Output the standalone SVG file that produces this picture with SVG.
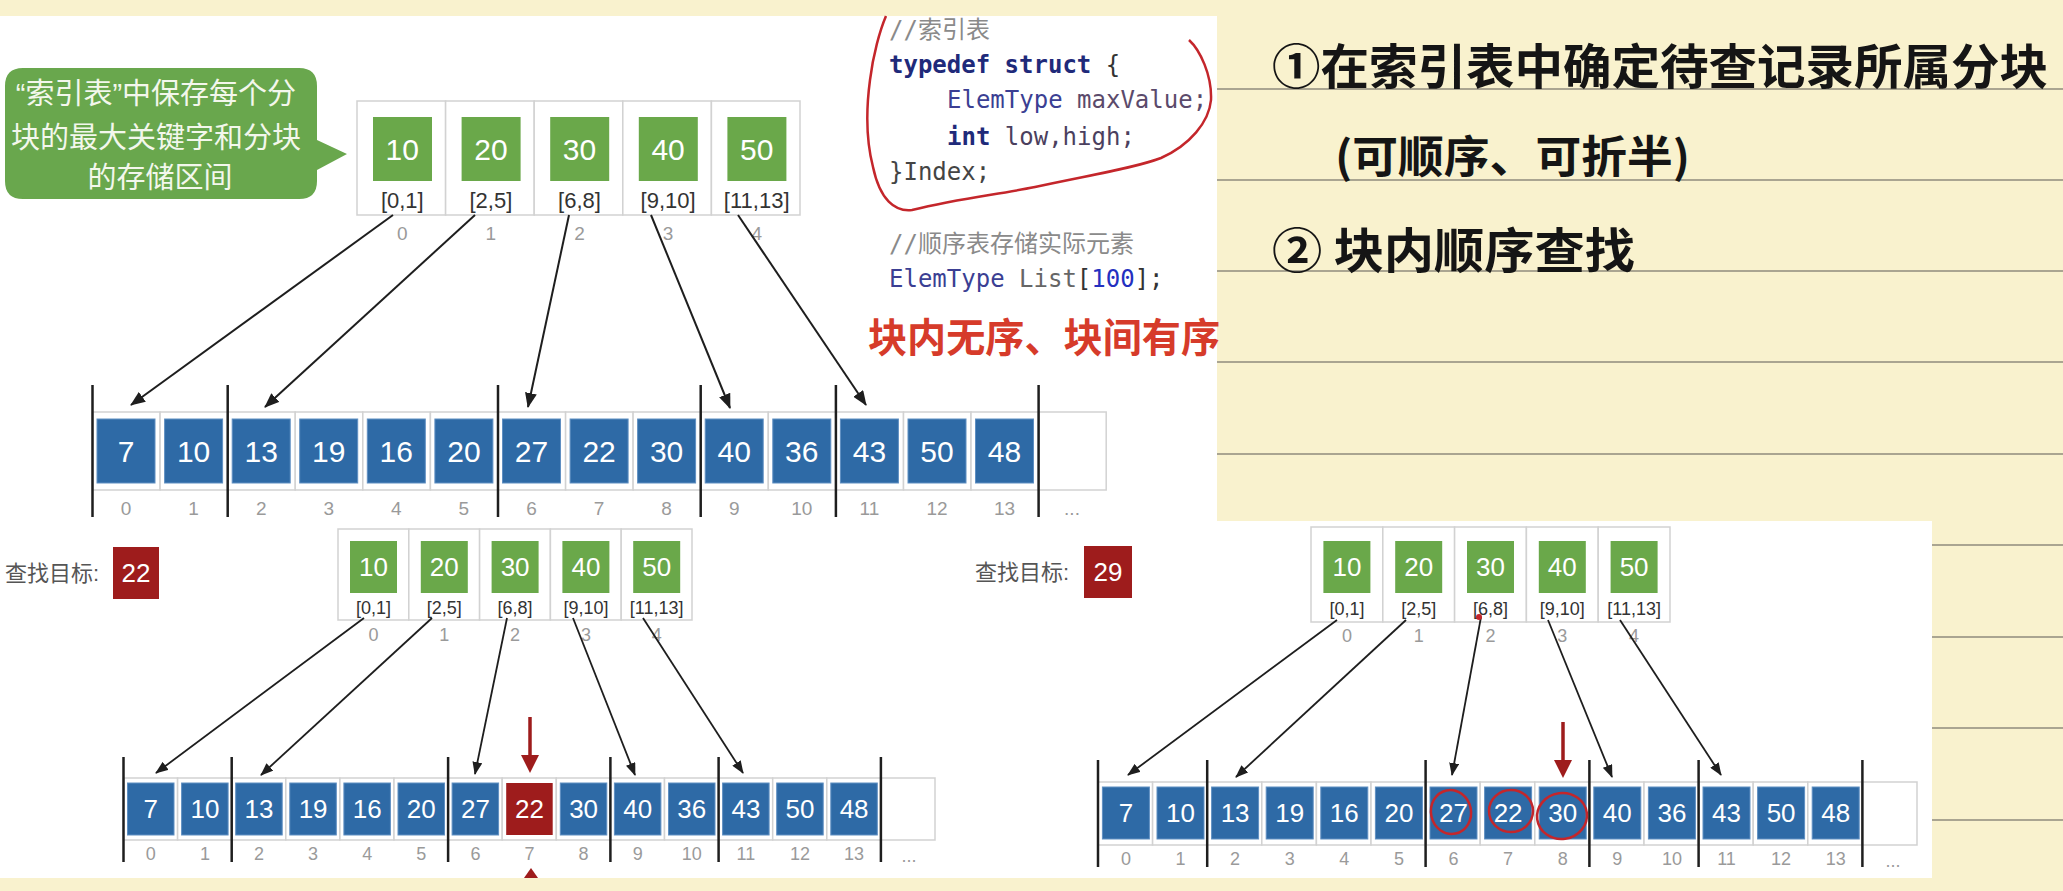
<svg xmlns="http://www.w3.org/2000/svg" width="2063" height="891" viewBox="0 0 2063 891">
<style>
.cell{fill:#fff;stroke:#d2d2d2;stroke-width:1.5}
.gbox{fill:#6AA84A}
.bbox{fill:#2E6AA6;stroke:#5f8fc2;stroke-width:1}
.rbox{fill:#9E1C1C}
.num{font-family:"Liberation Sans",Arial,sans-serif;fill:#fff;text-anchor:middle}
.rng{font-family:"Liberation Sans",Arial,sans-serif;fill:#333;text-anchor:middle}
.idx{font-family:"Liberation Sans",Arial,sans-serif;fill:#9a9a9a;text-anchor:middle}
.sep{stroke:#1e1e1e;stroke-width:2.5}
.arr{stroke:#1e1e1e;stroke-width:2;fill:none;marker-end:url(#ah)}
.arr2{stroke:#1e1e1e;stroke-width:1.8;fill:none;marker-end:url(#ah2)}
.rule{stroke:#8f8b7d;stroke-width:1.5}
.code{font-family:"DejaVu Sans Mono","Noto Sans CJK SC",monospace;font-size:24px;white-space:pre}
.cmt{fill:#8a8a8a}
.kw{fill:#1F2A7A;font-weight:bold}
.ty{fill:#3B3F93}
.hand{font-family:"Noto Sans CJK SC",sans-serif;font-weight:bold;fill:#151515}
.lbl{font-family:"Liberation Sans","Noto Sans CJK SC",sans-serif;font-size:22px;fill:#555}
.red{fill:#9E1C1C}
.redline{stroke:#C4262B;stroke-width:2.5;fill:none}
.big{font-size:30px}
.sm{font-size:26px}
.r1{font-size:22px}
.r2{font-size:18px}
.i1{font-size:19px}
.i2{font-size:18px}
</style>
<defs>
<marker id="ah" markerWidth="15" markerHeight="12" refX="14" refY="6" orient="auto" markerUnits="userSpaceOnUse"><path d="M0,0 L15,6 L0,12 z" fill="#1e1e1e"/></marker>
<marker id="ah2" markerWidth="13" markerHeight="10" refX="12" refY="5" orient="auto" markerUnits="userSpaceOnUse"><path d="M0,0 L13,5 L0,10 z" fill="#1e1e1e"/></marker>
</defs>

<!-- background paper -->
<rect x="0" y="0" width="2063" height="891" fill="#F9F2CE"/>
<g id="ruled-lines">
<line class="rule" x1="1217" y1="89" x2="2063" y2="89"/>
<line class="rule" x1="1217" y1="180" x2="2063" y2="180"/>
<line class="rule" x1="1217" y1="271" x2="2063" y2="271"/>
<line class="rule" x1="1217" y1="362" x2="2063" y2="362"/>
<line class="rule" x1="1217" y1="454" x2="2063" y2="454"/>
<line class="rule" x1="1932" y1="545" x2="2063" y2="545"/>
<line class="rule" x1="1932" y1="637" x2="2063" y2="637"/>
<line class="rule" x1="1932" y1="728" x2="2063" y2="728"/>
<line class="rule" x1="1932" y1="820" x2="2063" y2="820"/>
</g>

<!-- white screenshot panels -->
<rect x="0" y="16" width="1217" height="505" fill="#fff"/>
<rect x="0" y="520" width="965" height="358" fill="#fff"/>
<rect x="965" y="521" width="967" height="357" fill="#fff"/>

<!-- ================= PANEL A ================= -->
<g id="A-callout">
<path d="M23,68 H299 Q317,68 317,86 V140 L347,154 L317,170 V181 Q317,199 299,199 H23 Q5,199 5,181 V86 Q5,68 23,68 Z" fill="#69A74D"/>
<text font-family="'Liberation Sans','Noto Sans CJK SC',sans-serif" font-size="29" fill="#F3F7EC" text-anchor="middle">
<tspan x="160" y="104">“索引表”中保存每个分</tspan>
<tspan x="160" y="148">块的最大关键字和分块</tspan>
<tspan x="160" y="188">的存储区间</tspan>
</text>
</g>

<g id="A-index-0"><rect class="cell" x="357" y="101" width="88.6" height="114"/><rect class="gbox" x="373" y="117" width="59" height="64"/><text class="num big" x="402.3" y="160">10</text><text class="rng r1" x="402.3" y="208">[0,1]</text><text class="idx i1" x="402.3" y="240">0</text></g>
<g id="A-index-1"><rect class="cell" x="445.6" y="101" width="88.6" height="114"/><rect class="gbox" x="461.6" y="117" width="59" height="64"/><text class="num big" x="490.9" y="160">20</text><text class="rng r1" x="490.9" y="208">[2,5]</text><text class="idx i1" x="490.9" y="240">1</text></g>
<g id="A-index-2"><rect class="cell" x="534.2" y="101" width="88.6" height="114"/><rect class="gbox" x="550.2" y="117" width="59" height="64"/><text class="num big" x="579.5" y="160">30</text><text class="rng r1" x="579.5" y="208">[6,8]</text><text class="idx i1" x="579.5" y="240">2</text></g>
<g id="A-index-3"><rect class="cell" x="622.8" y="101" width="88.6" height="114"/><rect class="gbox" x="638.8" y="117" width="59" height="64"/><text class="num big" x="668.1" y="160">40</text><text class="rng r1" x="668.1" y="208">[9,10]</text><text class="idx i1" x="668.1" y="240">3</text></g>
<g id="A-index-4"><rect class="cell" x="711.4" y="101" width="88.6" height="114"/><rect class="gbox" x="727.4" y="117" width="59" height="64"/><text class="num big" x="756.7" y="160">50</text><text class="rng r1" x="756.7" y="208">[11,13]</text><text class="idx i1" x="756.7" y="240">4</text></g>

<g id="A-array">
<g id="A-cell-0"><rect class="cell" x="92.5" y="412" width="67.6" height="78"/><rect class="bbox" x="97" y="419" width="58" height="64"/><text class="num big" x="126" y="462">7</text><text class="idx i1" x="126" y="515">0</text></g>
<g id="A-cell-1"><rect class="cell" x="160.1" y="412" width="67.6" height="78"/><rect class="bbox" x="164.6" y="419" width="58" height="64"/><text class="num big" x="193.6" y="462">10</text><text class="idx i1" x="193.6" y="515">1</text></g>
<g id="A-cell-2"><rect class="cell" x="227.7" y="412" width="67.6" height="78"/><rect class="bbox" x="232.2" y="419" width="58" height="64"/><text class="num big" x="261.2" y="462">13</text><text class="idx i1" x="261.2" y="515">2</text></g>
<g id="A-cell-3"><rect class="cell" x="295.2" y="412" width="67.6" height="78"/><rect class="bbox" x="299.7" y="419" width="58" height="64"/><text class="num big" x="328.7" y="462">19</text><text class="idx i1" x="328.7" y="515">3</text></g>
<g id="A-cell-4"><rect class="cell" x="362.8" y="412" width="67.6" height="78"/><rect class="bbox" x="367.3" y="419" width="58" height="64"/><text class="num big" x="396.3" y="462">16</text><text class="idx i1" x="396.3" y="515">4</text></g>
<g id="A-cell-5"><rect class="cell" x="430.4" y="412" width="67.6" height="78"/><rect class="bbox" x="434.9" y="419" width="58" height="64"/><text class="num big" x="463.9" y="462">20</text><text class="idx i1" x="463.9" y="515">5</text></g>
<g id="A-cell-6"><rect class="cell" x="498" y="412" width="67.6" height="78"/><rect class="bbox" x="502.5" y="419" width="58" height="64"/><text class="num big" x="531.5" y="462">27</text><text class="idx i1" x="531.5" y="515">6</text></g>
<g id="A-cell-7"><rect class="cell" x="565.6" y="412" width="67.6" height="78"/><rect class="bbox" x="570.1" y="419" width="58" height="64"/><text class="num big" x="599.1" y="462">22</text><text class="idx i1" x="599.1" y="515">7</text></g>
<g id="A-cell-8"><rect class="cell" x="633.1" y="412" width="67.6" height="78"/><rect class="bbox" x="637.6" y="419" width="58" height="64"/><text class="num big" x="666.6" y="462">30</text><text class="idx i1" x="666.6" y="515">8</text></g>
<g id="A-cell-9"><rect class="cell" x="700.7" y="412" width="67.6" height="78"/><rect class="bbox" x="705.2" y="419" width="58" height="64"/><text class="num big" x="734.2" y="462">40</text><text class="idx i1" x="734.2" y="515">9</text></g>
<g id="A-cell-10"><rect class="cell" x="768.3" y="412" width="67.6" height="78"/><rect class="bbox" x="772.8" y="419" width="58" height="64"/><text class="num big" x="801.8" y="462">36</text><text class="idx i1" x="801.8" y="515">10</text></g>
<g id="A-cell-11"><rect class="cell" x="835.9" y="412" width="67.6" height="78"/><rect class="bbox" x="840.4" y="419" width="58" height="64"/><text class="num big" x="869.4" y="462">43</text><text class="idx i1" x="869.4" y="515">11</text></g>
<g id="A-cell-12"><rect class="cell" x="903.5" y="412" width="67.6" height="78"/><rect class="bbox" x="908" y="419" width="58" height="64"/><text class="num big" x="937" y="462">50</text><text class="idx i1" x="937" y="515">12</text></g>
<g id="A-cell-13"><rect class="cell" x="971" y="412" width="67.6" height="78"/><rect class="bbox" x="975.5" y="419" width="58" height="64"/><text class="num big" x="1004.5" y="462">48</text><text class="idx i1" x="1004.5" y="515">13</text></g>
<g id="A-cell-14"><rect class="cell" x="1038.6" y="412" width="67.6" height="78"/><text class="idx i1" x="1072" y="515">...</text></g>
</g>

<g id="A-connectors">
<line class="sep" x1="92.5" y1="385" x2="92.5" y2="517"/>
<line class="sep" x1="227.7" y1="385" x2="227.7" y2="517"/>
<line class="sep" x1="498" y1="385" x2="498" y2="517"/>
<line class="sep" x1="700.7" y1="385" x2="700.7" y2="517"/>
<line class="sep" x1="835.9" y1="385" x2="835.9" y2="517"/>
<line class="sep" x1="1038.6" y1="385" x2="1038.6" y2="517"/>
<line class="arr" x1="393" y1="215" x2="131" y2="405"/>
<line class="arr" x1="475" y1="215" x2="265" y2="407"/>
<line class="arr" x1="569" y1="215" x2="528" y2="407"/>
<line class="arr" x1="651" y1="215" x2="730" y2="408"/>
<line class="arr" x1="738" y1="215" x2="866" y2="405"/>
</g>

<g id="A-code">
<text class="code cmt" x="889" y="38">//索引表</text>
<text class="code" x="889" y="73"><tspan class="kw">typedef struct</tspan><tspan fill="#333"> {</tspan></text>
<text class="code" x="947" y="108"><tspan class="ty">ElemType</tspan><tspan fill="#5B4A6B"> maxValue;</tspan></text>
<text class="code" x="947" y="145"><tspan class="kw">int</tspan><tspan fill="#4B3F5E"> low,high;</tspan></text>
<text class="code" x="889" y="180" fill="#444">}Index;</text>
<text class="code cmt" x="889" y="252">//顺序表存储实际元素</text>
<text class="code" x="889" y="287"><tspan class="ty">ElemType</tspan><tspan fill="#666"> List</tspan><tspan fill="#333">[</tspan><tspan fill="#2430C0">100</tspan><tspan fill="#333">];</tspan></text>
</g>
<g id="A-code-circle">
<path class="redline" stroke="#B02020" stroke-width="3" d="M1189,40 C1200,50 1212,75 1211,100 C1209,122 1190,145 1161,158 C1135,168 1090,175 1035,187 C995,195 960,198 912,210 C895,212 880,200 873,167 C866,140 866,110 870,80 C873,55 880,30 886,16"/>
</g>
<text id="A-red-note" x="868" y="352" font-family="'Noto Sans CJK SC',sans-serif" font-weight="bold" font-size="40" fill="#D63B2A" textLength="352" lengthAdjust="spacingAndGlyphs">块内无序、块间有序</text>

<!-- handwritten notes -->
<g id="notes">
<text class="hand" x="1272" y="84" font-size="48" textLength="776" lengthAdjust="spacingAndGlyphs">①在索引表中确定待查记录所属分块</text>
<text class="hand" x="1335" y="173" font-size="44" textLength="355" lengthAdjust="spacingAndGlyphs">(可顺序、可折半)</text>
<text class="hand" x="1272" y="268" font-size="48" textLength="363" lengthAdjust="spacingAndGlyphs">② 块内顺序查找</text>
</g>

<!-- ================= PANEL B ================= -->
<g id="B-target">
<text class="lbl" x="5" y="581">查找目标:</text>
<rect class="rbox" x="113" y="547" width="46" height="52"/>
<text class="num sm" x="136" y="582">22</text>
</g>

<g id="B-index-0"><rect class="cell" x="338" y="529" width="70.8" height="91"/><rect class="gbox" x="350" y="541" width="47" height="52"/><text class="num sm" x="373.5" y="576">10</text><text class="rng r2" x="373.5" y="614">[0,1]</text><text class="idx i2" x="373.5" y="641">0</text></g>
<g id="B-index-1"><rect class="cell" x="408.8" y="529" width="70.8" height="91"/><rect class="gbox" x="420.8" y="541" width="47" height="52"/><text class="num sm" x="444.3" y="576">20</text><text class="rng r2" x="444.3" y="614">[2,5]</text><text class="idx i2" x="444.3" y="641">1</text></g>
<g id="B-index-2"><rect class="cell" x="479.6" y="529" width="70.8" height="91"/><rect class="gbox" x="491.6" y="541" width="47" height="52"/><text class="num sm" x="515.1" y="576">30</text><text class="rng r2" x="515.1" y="614">[6,8]</text><text class="idx i2" x="515.1" y="641">2</text></g>
<g id="B-index-3"><rect class="cell" x="550.4" y="529" width="70.8" height="91"/><rect class="gbox" x="562.4" y="541" width="47" height="52"/><text class="num sm" x="585.9" y="576">40</text><text class="rng r2" x="585.9" y="614">[9,10]</text><text class="idx i2" x="585.9" y="641">3</text></g>
<g id="B-index-4"><rect class="cell" x="621.2" y="529" width="70.8" height="91"/><rect class="gbox" x="633.2" y="541" width="47" height="52"/><text class="num sm" x="656.7" y="576">50</text><text class="rng r2" x="656.7" y="614">[11,13]</text><text class="idx i2" x="656.7" y="641">4</text></g>

<g id="B-array">
<g id="B-cell-0"><rect class="cell" x="123.5" y="778" width="54.1" height="62"/><rect class="bbox" x="127.5" y="783" width="46.5" height="52"/><text class="num sm" x="150.8" y="818">7</text><text class="idx i2" x="150.8" y="860">0</text></g>
<g id="B-cell-1"><rect class="cell" x="177.6" y="778" width="54.1" height="62"/><rect class="bbox" x="181.6" y="783" width="46.5" height="52"/><text class="num sm" x="204.9" y="818">10</text><text class="idx i2" x="204.9" y="860">1</text></g>
<g id="B-cell-2"><rect class="cell" x="231.7" y="778" width="54.1" height="62"/><rect class="bbox" x="235.7" y="783" width="46.5" height="52"/><text class="num sm" x="259" y="818">13</text><text class="idx i2" x="259" y="860">2</text></g>
<g id="B-cell-3"><rect class="cell" x="285.8" y="778" width="54.1" height="62"/><rect class="bbox" x="289.8" y="783" width="46.5" height="52"/><text class="num sm" x="313.1" y="818">19</text><text class="idx i2" x="313.1" y="860">3</text></g>
<g id="B-cell-4"><rect class="cell" x="339.9" y="778" width="54.1" height="62"/><rect class="bbox" x="343.9" y="783" width="46.5" height="52"/><text class="num sm" x="367.2" y="818">16</text><text class="idx i2" x="367.2" y="860">4</text></g>
<g id="B-cell-5"><rect class="cell" x="394" y="778" width="54.1" height="62"/><rect class="bbox" x="398" y="783" width="46.5" height="52"/><text class="num sm" x="421.3" y="818">20</text><text class="idx i2" x="421.3" y="860">5</text></g>
<g id="B-cell-6"><rect class="cell" x="448.1" y="778" width="54.1" height="62"/><rect class="bbox" x="452.1" y="783" width="46.5" height="52"/><text class="num sm" x="475.4" y="818">27</text><text class="idx i2" x="475.4" y="860">6</text></g>
<g id="B-cell-7"><rect class="cell" x="502.2" y="778" width="54.1" height="62"/><rect class="rbox" x="506.2" y="783" width="46.5" height="52"/><text class="num sm" x="529.5" y="818">22</text><text class="idx i2" x="529.5" y="860">7</text></g>
<g id="B-cell-8"><rect class="cell" x="556.3" y="778" width="54.1" height="62"/><rect class="bbox" x="560.3" y="783" width="46.5" height="52"/><text class="num sm" x="583.6" y="818">30</text><text class="idx i2" x="583.6" y="860">8</text></g>
<g id="B-cell-9"><rect class="cell" x="610.4" y="778" width="54.1" height="62"/><rect class="bbox" x="614.4" y="783" width="46.5" height="52"/><text class="num sm" x="637.7" y="818">40</text><text class="idx i2" x="637.7" y="860">9</text></g>
<g id="B-cell-10"><rect class="cell" x="664.5" y="778" width="54.1" height="62"/><rect class="bbox" x="668.5" y="783" width="46.5" height="52"/><text class="num sm" x="691.8" y="818">36</text><text class="idx i2" x="691.8" y="860">10</text></g>
<g id="B-cell-11"><rect class="cell" x="718.6" y="778" width="54.1" height="62"/><rect class="bbox" x="722.6" y="783" width="46.5" height="52"/><text class="num sm" x="745.9" y="818">43</text><text class="idx i2" x="745.9" y="860">11</text></g>
<g id="B-cell-12"><rect class="cell" x="772.7" y="778" width="54.1" height="62"/><rect class="bbox" x="776.7" y="783" width="46.5" height="52"/><text class="num sm" x="800" y="818">50</text><text class="idx i2" x="800" y="860">12</text></g>
<g id="B-cell-13"><rect class="cell" x="826.8" y="778" width="54.1" height="62"/><rect class="bbox" x="830.8" y="783" width="46.5" height="52"/><text class="num sm" x="854.1" y="818">48</text><text class="idx i2" x="854.1" y="860">13</text></g>
<g id="B-cell-14"><rect class="cell" x="880.9" y="778" width="54.1" height="62"/><text class="idx i2" x="909" y="862">...</text></g>
</g>

<g id="B-connectors">
<line class="sep" x1="123.5" y1="757" x2="123.5" y2="862"/>
<line class="sep" x1="231.7" y1="757" x2="231.7" y2="862"/>
<line class="sep" x1="448.1" y1="757" x2="448.1" y2="862"/>
<line class="sep" x1="610.4" y1="757" x2="610.4" y2="862"/>
<line class="sep" x1="718.6" y1="757" x2="718.6" y2="862"/>
<line class="sep" x1="880.9" y1="757" x2="880.9" y2="862"/>
<line class="arr2" x1="364" y1="618" x2="156" y2="773"/>
<line class="arr2" x1="432" y1="618" x2="261" y2="775"/>
<line class="arr2" x1="507" y1="618" x2="475" y2="774"/>
<line class="arr2" x1="573" y1="618" x2="635" y2="775"/>
<line class="arr2" x1="643" y1="618" x2="743" y2="773"/>
<line x1="530" y1="717" x2="530" y2="757" stroke="#9E1C1C" stroke-width="3.5"/>
<polygon class="red" points="521,755 539,755 530,773"/>
<polygon class="red" points="524,878 538,878 531,868"/>
</g>

<!-- ================= PANEL C ================= -->
<g id="C-target">
<text class="lbl" x="975" y="580">查找目标:</text>
<rect class="rbox" x="1084" y="546" width="48" height="52"/>
<text class="num sm" x="1108" y="581">29</text>
</g>

<g id="C-index-0"><rect class="cell" x="1311" y="527" width="71.8" height="95"/><rect class="gbox" x="1323.4" y="541" width="47" height="52"/><text class="num sm" x="1346.9" y="576">10</text><text class="rng r2" x="1346.9" y="615">[0,1]</text><text class="idx i2" x="1346.9" y="642">0</text></g>
<g id="C-index-1"><rect class="cell" x="1382.8" y="527" width="71.8" height="95"/><rect class="gbox" x="1395.2" y="541" width="47" height="52"/><text class="num sm" x="1418.7" y="576">20</text><text class="rng r2" x="1418.7" y="615">[2,5]</text><text class="idx i2" x="1418.7" y="642">1</text></g>
<g id="C-index-2"><rect class="cell" x="1454.6" y="527" width="71.8" height="95"/><rect class="gbox" x="1467" y="541" width="47" height="52"/><text class="num sm" x="1490.5" y="576">30</text><text class="rng r2" x="1490.5" y="615">[6,8]</text><text class="idx i2" x="1490.5" y="642">2</text></g>
<g id="C-index-3"><rect class="cell" x="1526.4" y="527" width="71.8" height="95"/><rect class="gbox" x="1538.8" y="541" width="47" height="52"/><text class="num sm" x="1562.3" y="576">40</text><text class="rng r2" x="1562.3" y="615">[9,10]</text><text class="idx i2" x="1562.3" y="642">3</text></g>
<g id="C-index-4"><rect class="cell" x="1598.2" y="527" width="71.8" height="95"/><rect class="gbox" x="1610.6" y="541" width="47" height="52"/><text class="num sm" x="1634.1" y="576">50</text><text class="rng r2" x="1634.1" y="615">[11,13]</text><text class="idx i2" x="1634.1" y="642">4</text></g>

<g id="C-array">
<g id="C-cell-0"><rect class="cell" x="1098" y="782" width="54.6" height="63"/><rect class="bbox" x="1102.4" y="787" width="47" height="52"/><text class="num sm" x="1125.9" y="822">7</text><text class="idx i2" x="1125.9" y="865">0</text></g>
<g id="C-cell-1"><rect class="cell" x="1152.6" y="782" width="54.6" height="63"/><rect class="bbox" x="1157" y="787" width="47" height="52"/><text class="num sm" x="1180.5" y="822">10</text><text class="idx i2" x="1180.5" y="865">1</text></g>
<g id="C-cell-2"><rect class="cell" x="1207.2" y="782" width="54.6" height="63"/><rect class="bbox" x="1211.6" y="787" width="47" height="52"/><text class="num sm" x="1235.1" y="822">13</text><text class="idx i2" x="1235.1" y="865">2</text></g>
<g id="C-cell-3"><rect class="cell" x="1261.8" y="782" width="54.6" height="63"/><rect class="bbox" x="1266.2" y="787" width="47" height="52"/><text class="num sm" x="1289.7" y="822">19</text><text class="idx i2" x="1289.7" y="865">3</text></g>
<g id="C-cell-4"><rect class="cell" x="1316.4" y="782" width="54.6" height="63"/><rect class="bbox" x="1320.8" y="787" width="47" height="52"/><text class="num sm" x="1344.3" y="822">16</text><text class="idx i2" x="1344.3" y="865">4</text></g>
<g id="C-cell-5"><rect class="cell" x="1371" y="782" width="54.6" height="63"/><rect class="bbox" x="1375.4" y="787" width="47" height="52"/><text class="num sm" x="1398.9" y="822">20</text><text class="idx i2" x="1398.9" y="865">5</text></g>
<g id="C-cell-6"><rect class="cell" x="1425.6" y="782" width="54.6" height="63"/><rect class="bbox" x="1430" y="787" width="47" height="52"/><text class="num sm" x="1453.5" y="822">27</text><text class="idx i2" x="1453.5" y="865">6</text></g>
<g id="C-cell-7"><rect class="cell" x="1480.2" y="782" width="54.6" height="63"/><rect class="bbox" x="1484.6" y="787" width="47" height="52"/><text class="num sm" x="1508.1" y="822">22</text><text class="idx i2" x="1508.1" y="865">7</text></g>
<g id="C-cell-8"><rect class="cell" x="1534.8" y="782" width="54.6" height="63"/><rect class="bbox" x="1539.2" y="787" width="47" height="52"/><text class="num sm" x="1562.7" y="822">30</text><text class="idx i2" x="1562.7" y="865">8</text></g>
<g id="C-cell-9"><rect class="cell" x="1589.4" y="782" width="54.6" height="63"/><rect class="bbox" x="1593.8" y="787" width="47" height="52"/><text class="num sm" x="1617.3" y="822">40</text><text class="idx i2" x="1617.3" y="865">9</text></g>
<g id="C-cell-10"><rect class="cell" x="1644" y="782" width="54.6" height="63"/><rect class="bbox" x="1648.4" y="787" width="47" height="52"/><text class="num sm" x="1671.9" y="822">36</text><text class="idx i2" x="1671.9" y="865">10</text></g>
<g id="C-cell-11"><rect class="cell" x="1698.6" y="782" width="54.6" height="63"/><rect class="bbox" x="1703" y="787" width="47" height="52"/><text class="num sm" x="1726.5" y="822">43</text><text class="idx i2" x="1726.5" y="865">11</text></g>
<g id="C-cell-12"><rect class="cell" x="1753.2" y="782" width="54.6" height="63"/><rect class="bbox" x="1757.6" y="787" width="47" height="52"/><text class="num sm" x="1781.1" y="822">50</text><text class="idx i2" x="1781.1" y="865">12</text></g>
<g id="C-cell-13"><rect class="cell" x="1807.8" y="782" width="54.6" height="63"/><rect class="bbox" x="1812.2" y="787" width="47" height="52"/><text class="num sm" x="1835.7" y="822">48</text><text class="idx i2" x="1835.7" y="865">13</text></g>
<g id="C-cell-14"><rect class="cell" x="1862.4" y="782" width="54.6" height="63"/><text class="idx i2" x="1893" y="867">...</text></g>
</g>

<g id="C-connectors">
<line class="sep" x1="1098" y1="760" x2="1098" y2="867"/>
<line class="sep" x1="1207.2" y1="760" x2="1207.2" y2="867"/>
<line class="sep" x1="1425.6" y1="760" x2="1425.6" y2="867"/>
<line class="sep" x1="1589.4" y1="760" x2="1589.4" y2="867"/>
<line class="sep" x1="1698.6" y1="760" x2="1698.6" y2="867"/>
<line class="sep" x1="1862.4" y1="760" x2="1862.4" y2="867"/>
<line class="arr2" x1="1337" y1="620" x2="1128" y2="775"/>
<line class="arr2" x1="1406" y1="620" x2="1236" y2="777"/>
<line class="arr2" x1="1481" y1="617" x2="1452" y2="775"/>
<line class="arr2" x1="1548" y1="620" x2="1612" y2="777"/>
<line class="arr2" x1="1620" y1="620" x2="1721" y2="775"/>
<circle cx="1479" cy="617" r="3" fill="#C4262B"/>
<line x1="1563" y1="722" x2="1563" y2="762" stroke="#9E1C1C" stroke-width="3.5"/>
<polygon class="red" points="1554,760 1572,760 1563,778"/>
</g>
<g id="C-marks">
<ellipse class="redline" cx="1451" cy="812" rx="20" ry="22" transform="rotate(-12 1451 812)"/>
<ellipse class="redline" cx="1511" cy="811" rx="22" ry="21"/>
<ellipse class="redline" cx="1562" cy="816" rx="25" ry="23" transform="rotate(-8 1562 816)"/>
</g>
</svg>
